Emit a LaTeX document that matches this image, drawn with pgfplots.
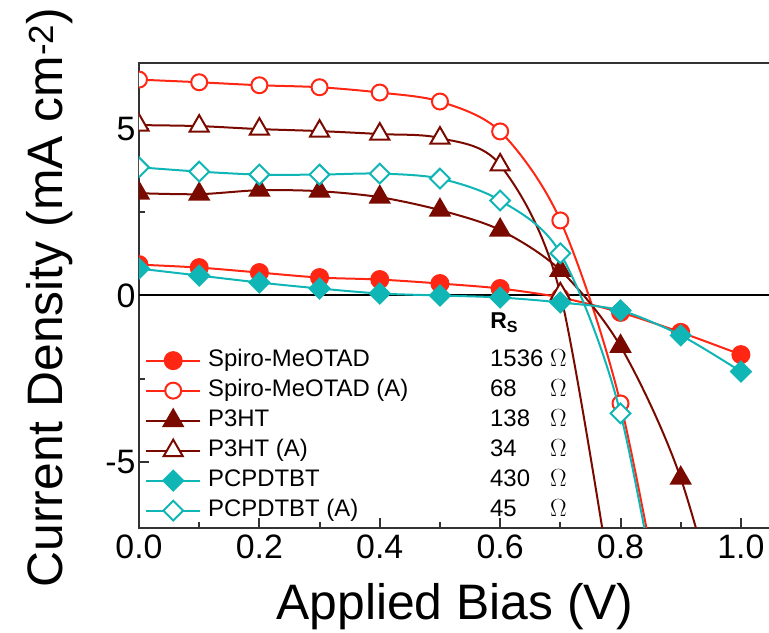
\documentclass[border=0pt]{standalone}
\usepackage{fontspec}
\setmainfont{Liberation Sans}
\usepackage{pgfplots}
\pgfplotsset{compat=1.18}

\definecolor{cred}{RGB}{255,38,20}
\definecolor{cdark}{RGB}{122,10,0}
\definecolor{cteal}{RGB}{16,181,181}
\definecolor{frame}{RGB}{51,51,51}

\begin{document}
\begin{tikzpicture}
\begin{axis}[
  scale only axis,
  width=632bp, height=465bp,
  xmin=0, xmax=1.05, ymin=-7, ymax=7,
  xtick={0,0.2,0.4,0.6,0.8,1.0},
  minor xtick={0.1,0.3,0.5,0.7,0.9},
  ytick={-5,0,5},
  minor ytick={-2.5,2.5},
  xtick pos=bottom, ytick pos=left,
  tick align=inside,
  major tick length=10bp, minor tick length=6bp,
  tick style={frame, line width=2bp},
  axis line style={frame, line width=2.2bp},
  /pgf/number format/assume math mode=true,
  ticklabel style={font=\fontsize{34}{40}\selectfont},
  xticklabel style={/pgf/number format/fixed, /pgf/number format/fixed zerofill,
    /pgf/number format/precision=1, yshift=-3bp},
  xlabel={Applied Bias (V)},
  ylabel={Current Density (mA cm\textsuperscript{-2})},
  label style={font=\fontsize{50}{56}\selectfont},
  xlabel style={at={(axis description cs:0.5,-0.197)}, anchor=base},
  ylabel style={at={(axis description cs:-0.1203,0.4955)}, anchor=base},
  clip marker paths=true,
  every axis plot/.append style={line width=2bp, smooth},
  legend image code/.code={
    \draw[mark repeat=2, mark phase=2] plot coordinates {(0bp,0bp) (27bp,0bp) (54bp,0bp)};
    \path (61bp,0bp);
  },
  legend cell align=left,
  legend style={
    at={(axis description cs:0.0095,0.384)}, anchor=north west,
    draw=none, fill=none, inner sep=0pt,
    font=\fontsize{24}{28}\selectfont,
    nodes={inner sep=0pt, text height=17bp, text depth=5bp},
    row sep=8bp,
  },
]

% zero line
\draw[black, line width=2bp] (axis cs:0,0) -- (axis cs:1.05,0);

% Spiro-MeOTAD
\addplot[cred, mark=*, mark size=8.5bp, mark options={fill=cred}] coordinates {
  (0.0,0.93) (0.1,0.84) (0.2,0.69) (0.3,0.54) (0.4,0.48) (0.5,0.36)
  (0.6,0.21) (0.7,-0.06) (0.8,-0.51) (0.9,-1.11) (1.0,-1.78)
};
\addlegendentry{\makebox[282bp][l]{Spiro-MeOTAD}\makebox[60bp][l]{1536}$\Omega$}

% Spiro-MeOTAD (A)
\addplot[cred, mark=*, mark size=8bp, mark options={fill=white}] coordinates {
  (0.0,6.50) (0.1,6.42) (0.2,6.33) (0.3,6.27) (0.4,6.11) (0.5,5.84)
  (0.6,4.94) (0.7,2.26) (0.8,-3.25) (0.9,-12.5)
};
\addlegendentry{\makebox[282bp][l]{Spiro-MeOTAD (A)}\makebox[60bp][l]{68}$\Omega$}

% P3HT
\addplot[cdark, mark=triangle*, mark size=11bp, mark options={fill=cdark}] coordinates {
  (0.0,3.08) (0.1,3.05) (0.2,3.17) (0.3,3.14) (0.4,2.96) (0.5,2.57)
  (0.6,1.97) (0.7,0.76) (0.8,-1.53) (0.9,-5.5) (1.0,-12.0)
};
\addlegendentry{\makebox[282bp][l]{P3HT}\makebox[60bp][l]{138}$\Omega$}

% P3HT (A)
\addplot[cdark, mark=triangle*, mark size=11bp, mark options={fill=white}] coordinates {
  (0.0,5.13) (0.1,5.10) (0.2,5.01) (0.3,4.95) (0.4,4.86) (0.5,4.74)
  (0.6,3.93) (0.7,0.05) (0.8,-10.5)
};
\addlegendentry{\makebox[282bp][l]{P3HT (A)}\makebox[60bp][l]{34}$\Omega$}

% PCPDTBT
\addplot[cteal, mark=square*, mark size=7bp, mark options={fill=cteal, rotate=45}] coordinates {
  (0.0,0.81) (0.1,0.60) (0.2,0.39) (0.3,0.21) (0.4,0.06) (0.5,0.0)
  (0.6,-0.06) (0.7,-0.21) (0.8,-0.45) (0.9,-1.20) (1.0,-2.29)
};
\addlegendentry{\makebox[282bp][l]{PCPDTBT}\makebox[60bp][l]{430}$\Omega$}

% PCPDTBT (A)
\addplot[cteal, mark=square*, mark size=7bp, mark options={fill=white, rotate=45}] coordinates {
  (0.0,3.86) (0.1,3.73) (0.2,3.64) (0.3,3.64) (0.4,3.67) (0.5,3.52)
  (0.6,2.86) (0.7,1.27) (0.8,-3.55) (0.9,-13.0)
};
\addlegendentry{\makebox[282bp][l]{PCPDTBT (A)}\makebox[60bp][l]{45}$\Omega$}

\node[anchor=base west, font=\fontsize{23}{28}\selectfont\bfseries] at (axis cs:0.578,-0.99) {R\textsubscript{S}};

\end{axis}
\pgfresetboundingbox
\useasboundingbox (-139bp,-105bp) rectangle (630bp,528bp);
\end{tikzpicture}
\end{document}
